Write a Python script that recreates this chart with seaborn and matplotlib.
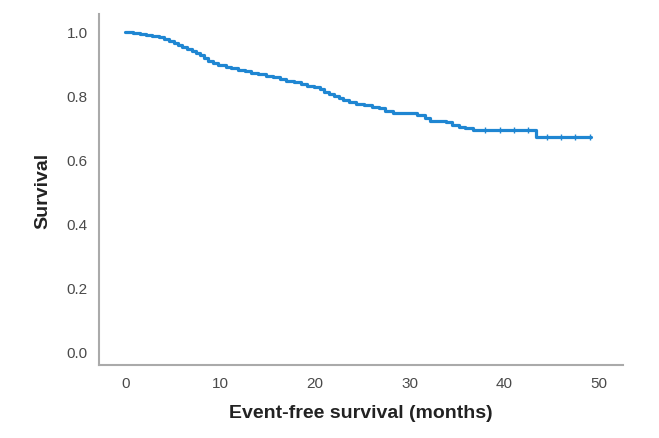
import numpy as np
import pandas as pd
import matplotlib
matplotlib.use("Agg")
import matplotlib.pyplot as plt
import seaborn as sns

# step points of the Kaplan-Meier curve (months, survival)
months = [0, 0.8, 1.5, 2.2, 2.8, 3.5, 4.1, 4.6, 5.1, 5.6, 6.0, 6.5, 7.0,
          7.5, 7.9, 8.3, 8.7, 9.2, 9.8, 10.6, 11.2, 11.9, 12.6, 13.3, 14.0,
          14.8, 15.6, 16.3, 17.0, 17.8, 18.5, 19.2, 19.9, 20.5, 21.0, 21.5,
          22.0, 22.5, 23.0, 23.6, 24.3, 25.2, 26.0, 26.8, 27.4, 28.3, 30.8,
          31.6, 32.2, 33.8, 34.5, 35.2, 35.9, 36.7, 43.3, 49.2]
survival = [1.0, 0.997, 0.993, 0.99, 0.986, 0.983, 0.977, 0.971, 0.965,
            0.959, 0.953, 0.947, 0.94, 0.934, 0.926, 0.918, 0.909, 0.902,
            0.896, 0.891, 0.886, 0.881, 0.876, 0.871, 0.867, 0.862, 0.857,
            0.852, 0.847, 0.842, 0.836, 0.831, 0.826, 0.82, 0.813, 0.806,
            0.799, 0.792, 0.785, 0.779, 0.775, 0.771, 0.766, 0.76, 0.753,
            0.745, 0.738, 0.729, 0.72, 0.716, 0.709, 0.703, 0.698, 0.693,
            0.672, 0.672]

# censored observations
censor_t = [38.0, 39.5, 41.0, 42.5, 44.5, 46.0, 47.5, 49.0]
censor_s = [0.693, 0.693, 0.693, 0.693, 0.672, 0.672, 0.672, 0.672]

km = pd.DataFrame({"months": months, "survival": survival})
cens = pd.DataFrame({"months": censor_t, "survival": censor_s})

sns.set_style("white")
plt.rcParams["font.family"] = ["Liberation Sans", "DejaVu Sans"]

fig = plt.figure(figsize=(6.59, 4.39), dpi=100)
ax = fig.add_axes([0.150, 0.166, 0.795, 0.800])

line_col = "#1f86d2"
sns.lineplot(data=km, x="months", y="survival", drawstyle="steps-post",
             color=line_col, linewidth=2.3, ax=ax)
sns.scatterplot(data=cens, x="months", y="survival", marker="|", s=18,
                color=line_col, linewidth=1.0, ax=ax)

ax.set_xlim(-2.8, 52.5)
ax.set_ylim(-0.044, 1.056)
ax.set_xticks([0, 10, 20, 30, 40, 50])
ax.set_yticks([0.0, 0.2, 0.4, 0.6, 0.8, 1.0])
ax.set_yticklabels(["0.0", "0.2", "0.4", "0.6", "0.8", "1.0"])
ax.tick_params(axis="both", length=0, labelsize=11, labelcolor="#4a4a4a", pad=8)

sns.despine(ax=ax)
for s in ["left", "bottom"]:
    ax.spines[s].set_color("#aaaaaa")
    ax.spines[s].set_linewidth(1.5)

ax.set_xlabel("Event-free survival (months)", fontsize=14, fontweight="bold",
              color="#222222", labelpad=10)
ax.set_ylabel("Survival", fontsize=14, fontweight="bold", color="#222222",
              labelpad=11)

fig.savefig("out.png", dpi=100)
